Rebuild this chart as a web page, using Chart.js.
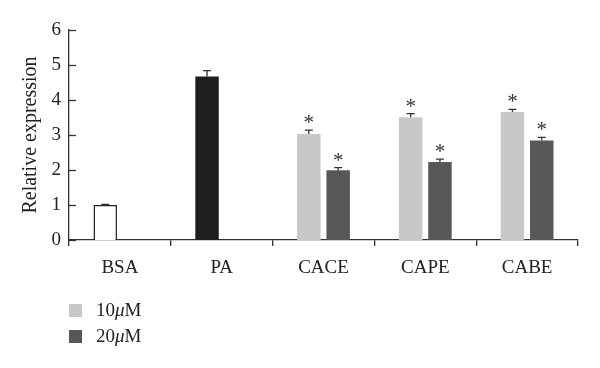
<!DOCTYPE html>
<html>
<head>
<meta charset="utf-8">
<script src="https://cdn.jsdelivr.net/npm/chart.js@4"></script>
<style>
  html, body { margin: 0; padding: 0; background: #fff; }
  #wrap { position: relative; width: 600px; height: 368px; }
  #legend { position: absolute; left: 69px; top: 297px; font-family: "Liberation Serif", serif; font-size: 19px; color: #222; }
  #legend div { height: 26px; display: flex; align-items: center; }
  #legend span.box { display: inline-block; width: 13px; height: 13px; margin-right: 14px; }
</style>
</head>
<body>
<div id="wrap">
  <canvas id="c" width="600" height="368"></canvas>
  <div id="legend"></div>
</div>
<script>
var categories = ['BSA', 'PA', 'CACE', 'CAPE', 'CABE'];
var values10 = [1.0, 4.67, 3.03, 3.51, 3.66];
var err10 = [0.02, 0.17, 0.11, 0.1, 0.07];
var sig10 = [false, false, true, true, true];
var values20 = [null, null, 1.99, 2.23, 2.84];
var err20 = [null, null, 0.08, 0.08, 0.09];
var sig20 = [false, false, true, true, true];
var seriesNames = ['10', '20'];

var light = '#c8c8c8', dark = '#575757', ink = '#333';

// inward y ticks, error bars and asterisks
var extras = {
  id: 'extras',
  afterDatasetsDraw: function(chart) {
    var ctx = chart.ctx, y = chart.scales.y, area = chart.chartArea;
    ctx.save();
    ctx.strokeStyle = ink;
    ctx.lineWidth = 1.3;
    y.ticks.forEach(function(t) {
      var py = Math.round(y.getPixelForValue(t.value)) + 0.5;
      ctx.beginPath();
      ctx.moveTo(area.left, py);
      ctx.lineTo(area.left + 7, py);
      ctx.stroke();
    });
    var errs = [err10, err20], sigs = [sig10, sig20];
    chart.data.datasets.forEach(function(ds, di) {
      chart.getDatasetMeta(di).data.forEach(function(bar, i) {
        if (ds.data[i] == null) return;
        var top = y.getPixelForValue(ds.data[i] + errs[di][i]);
        ctx.beginPath();
        ctx.moveTo(bar.x, bar.y);
        ctx.lineTo(bar.x, top);
        ctx.moveTo(bar.x - 4, top);
        ctx.lineTo(bar.x + 4, top);
        ctx.stroke();
        if (sigs[di][i]) {
          ctx.fillStyle = ink;
          ctx.font = '21px "Liberation Serif"';
          ctx.textAlign = 'center';
          ctx.textBaseline = 'alphabetic';
          ctx.fillText('*', bar.x, top - 1);
        }
      });
    });
    ctx.restore();
  }
};

var tickFont = { family: 'Liberation Serif', size: 19 };

new Chart(document.getElementById('c'), {
  type: 'bar',
  data: {
    labels: categories,
    datasets: [{
      data: values10,
      backgroundColor: ['#ffffff', '#1e1e1e', light, light, light],
      borderColor: ['#222', '#1e1e1e', light, light, light],
      borderWidth: [1.5, 0, 0, 0, 0],
      categoryPercentage: 0.576,
      barPercentage: 0.8
    }, {
      data: values20,
      backgroundColor: dark,
      borderWidth: 0,
      categoryPercentage: 0.576,
      barPercentage: 0.8
    }]
  },
  options: {
    responsive: false,
    animation: false,
    layout: { padding: { top: 30, right: 22, left: 0, bottom: 0 } },
    plugins: { legend: { display: false }, tooltip: { enabled: false } },
    scales: {
      x: {
        afterFit: function(s) { s.height = 128; },
        grid: { drawOnChartArea: false, tickLength: 6, color: ink, lineWidth: 1.3 },
        border: { color: ink, width: 1.3 },
        ticks: { color: '#222', padding: 11, font: tickFont }
      },
      y: {
        min: 0, max: 6,
        afterFit: function(s) { s.width = 69; },
        grid: { display: false, drawTicks: false },
        border: { color: ink, width: 1.3 },
        ticks: { stepSize: 1, color: '#222', padding: 8, font: tickFont },
        title: { display: true, text: 'Relative expression', color: '#222', padding: { top: 19 },
          font: { family: 'Liberation Serif', size: 20 } }
      }
    }
  },
  plugins: [extras]
});

var legend = document.getElementById('legend');
[light, dark].forEach(function(col, i) {
  var row = document.createElement('div');
  row.innerHTML = '<span class="box" style="background:' + col + '"></span>' + seriesNames[i] + '<i>μ</i>M';
  legend.appendChild(row);
});
</script>
</body>
</html>
